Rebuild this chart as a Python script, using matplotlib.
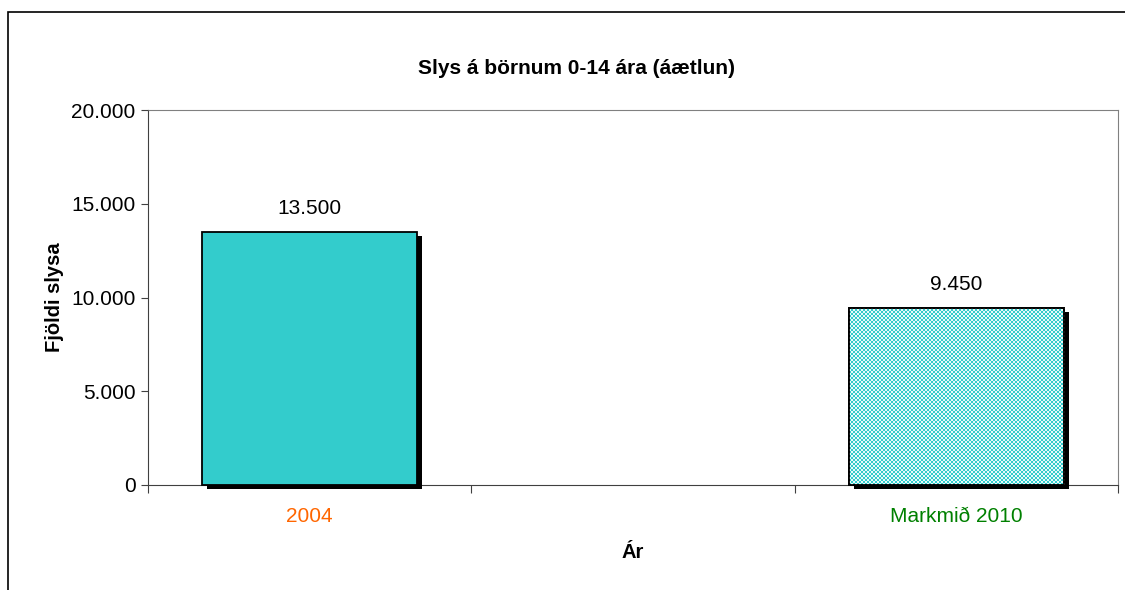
import numpy as np
import matplotlib
matplotlib.use('Agg')
import matplotlib.pyplot as plt
import matplotlib.patheffects as pe
from matplotlib.patches import Rectangle
from matplotlib.ticker import FuncFormatter

plt.rcParams['font.family'] = ['Liberation Sans', 'DejaVu Sans']

# Gögn
flokkar = ['2004', '', 'Markmið 2010']
gildi = [13500, None, 9450]
merki_litir = ['#FF6600', 'black', '#008000']
bar_litur = '#33CCCC'

fig = plt.figure(figsize=(11.25, 5.9), dpi=100)
ax = fig.add_axes([148 / 1125, 1 - 485 / 590, 970 / 1125, 375 / 590])

# ytri rammi
fig.patches.append(Rectangle((8 / 1125, -0.2), 1.2, 1.2 - 12 / 590, transform=fig.transFigure,
                             fill=False, edgecolor='black', linewidth=1.2))

ax.set_xlim(-0.5, 2.5)
ax.set_ylim(0, 20000)

skuggi = [pe.SimplePatchShadow(offset=(3.6, -3.0), shadow_rgbFace='black', alpha=1.0), pe.Normal()]
bars = []
for i, v in enumerate(gildi):
    if v is None:
        continue
    b = ax.bar(i, v, width=0.667, color=bar_litur, edgecolor='black', linewidth=1.3,
               clip_on=False, zorder=3)[0]
    b.set_path_effects(skuggi)
    bars.append(b)
    ax.annotate(f'{v:,.0f}'.replace(',', '.'), (i, v), xytext=(0, 17), textcoords='offset points',
                ha='center', va='center', fontsize=15)

# köflótt mynstur á markmiðssúlunni
fig.canvas.draw()
b = bars[1]
x0, y0 = b.get_x(), b.get_y()
x1, y1 = x0 + b.get_width(), y0 + b.get_height()
(px0, py0), (px1, py1) = ax.transData.transform([(x0, y0), (x1, y1)])
nx, ny = int(abs(px1 - px0) / 2) + 1, int(abs(py1 - py0) / 2) + 1
chk = (np.add.outer(np.arange(ny), np.arange(nx)) % 2).astype(float)
img = np.zeros((ny, nx, 4))
img[..., :3] = 1.0
img[..., 3] = chk * 0.9
im = ax.imshow(img, extent=(x0, x1, y0, y1), aspect='auto', interpolation='nearest', zorder=4)
im.set_clip_path(b)
ax.bar(b.get_x() + b.get_width() / 2, b.get_height(), width=b.get_width(), fill=False,
       edgecolor='black', linewidth=1.3, zorder=5, clip_on=False)
ax.set_xlim(-0.5, 2.5)
ax.set_ylim(0, 20000)

# ásar
for s in ['top', 'right']:
    ax.spines[s].set_color('#808080')
for s in ['left', 'bottom']:
    ax.spines[s].set_color('#404040')
ax.set_axisbelow(False)

ax.set_yticks([0, 5000, 10000, 15000, 20000])
ax.yaxis.set_major_formatter(FuncFormatter(lambda v, p: f'{v:,.0f}'.replace(',', '.')))
ax.tick_params(axis='y', labelsize=15, length=5, pad=4, color='#404040')

ax.set_xticks([-0.5, 0.5, 1.5, 2.5])
ax.set_xticklabels([])
ax.tick_params(axis='x', which='major', length=6, color='#404040')
ax.set_xticks([0, 1, 2], minor=True)
ax.set_xticklabels(flokkar, minor=True, fontsize=15)
ax.tick_params(axis='x', which='minor', length=0, pad=16)
for t, c in zip(ax.get_xticklabels(minor=True), merki_litir):
    t.set_color(c)

ax.set_ylabel('Fjöldi slysa', fontsize=14.5, fontweight='bold')
ax.yaxis.set_label_coords((54 - 148) / 970, 0.5)
ax.yaxis.label.set_va('center')
ax.set_xlabel('Ár', fontsize=14.5, fontweight='bold')
ax.xaxis.set_label_coords(0.5, (485 - 552) / 375)
ax.xaxis.label.set_va('center')
fig.text(577 / 1125, 1 - 68 / 590, 'Slys á börnum 0-14 ára (áætlun)', ha='center', va='center',
         fontsize=15, fontweight='bold')

fig.savefig('out.png', dpi=100)
